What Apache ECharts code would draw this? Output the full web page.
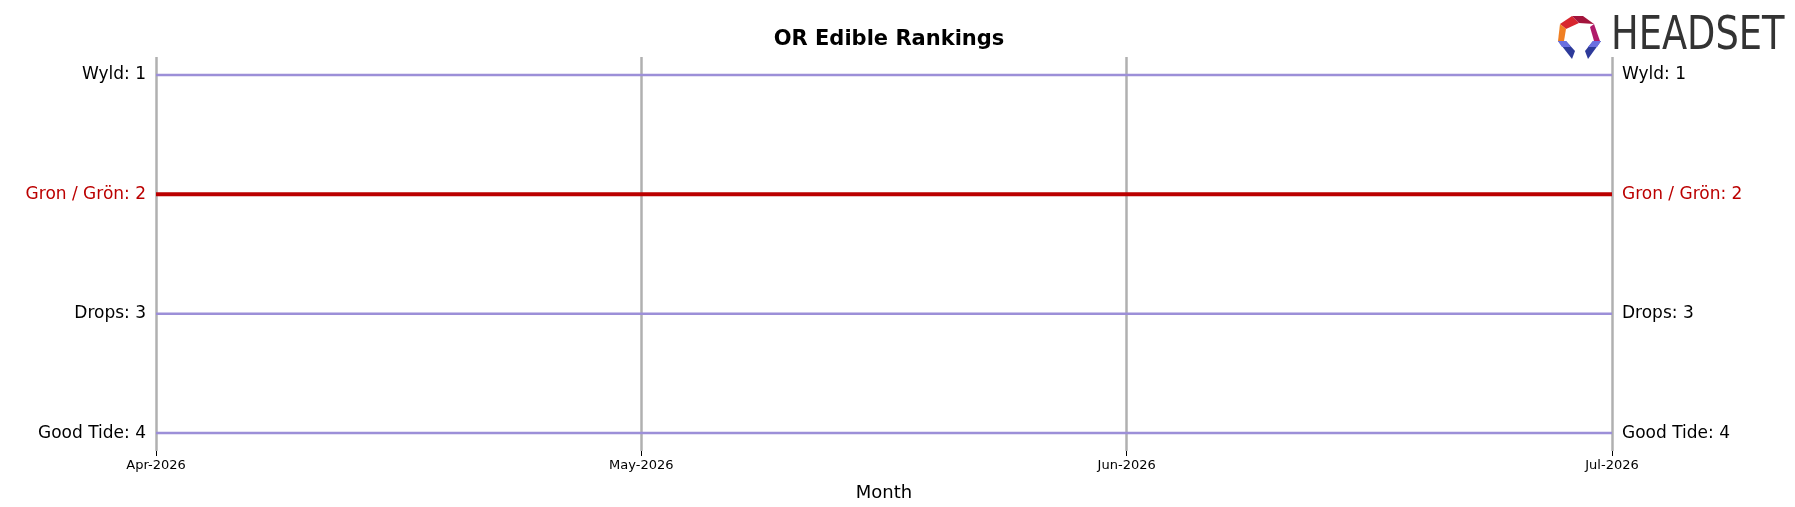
<!DOCTYPE html>
<html>
<head>
<meta charset="utf-8">
<script src="https://cdn.jsdelivr.net/npm/echarts@6/dist/echarts.min.js"></script>
<style>html,body{margin:0;padding:0;background:#fff}#main{width:1795px;height:507px}</style>
</head>
<body>
<div id="main"></div>
<script>
var monthLabels = ['Apr-2026', 'May-2026', 'Jun-2026', 'Jul-2026'];
var brands = ['Wyld', 'Gron / Grön', 'Drops', 'Good Tide'];
var ranks = [
    [1, 1, 1, 1],
    [2, 2, 2, 2],
    [3, 3, 3, 3],
    [4, 4, 4, 4]
];
var highlight = 'Gron / Grön';

var chart = echarts.init(document.getElementById('main'));
var font = 'DejaVu Sans';

var series = brands.map(function (name, i) {
    var hl = name === highlight;
    var color = hl ? '#bb0000' : '#9c8fd8';
    var last = ranks[i][ranks[i].length - 1];
    return {
        name: name,
        type: 'line',
        symbol: 'circle',
        symbolSize: 0,
        showSymbol: true,
        z: hl ? 5 : 3,
        lineStyle: { color: color, width: hl ? 4 : 2.5 },
        itemStyle: { color: color },
        data: ranks[i],
        label: {
            show: true,
            position: 'left',
            distance: 10,
            color: hl ? '#bb0000' : '#000',
            fontFamily: font,
            fontSize: 17,
            formatter: function (p) { return p.dataIndex === 0 ? name + ': ' + ranks[i][0] : ''; }
        },
        endLabel: {
            show: true,
            distance: 10,
            color: hl ? '#bb0000' : '#000',
            fontFamily: font,
            fontSize: 17,
            formatter: name + ': ' + last
        }
    };
});

var option = {
    backgroundColor: '#fff',
    animation: false,
    title: {
        text: 'OR Edible Rankings',
        left: 884,
        top: 24,
        textAlign: 'center',
        textStyle: { fontFamily: font, fontSize: 21, fontWeight: 'bold', color: '#000' }
    },
    grid: { left: 156, right: 183, top: 57, bottom: 56 },
    xAxis: {
        type: 'category',
        boundaryGap: false,
        data: monthLabels,
        name: 'Month',
        nameLocation: 'middle',
        nameGap: 33,
        nameTextStyle: { fontFamily: font, fontSize: 18, color: '#000' },
        axisLine: { show: false },
        axisTick: { show: true, length: 5, lineStyle: { color: '#000' } },
        axisLabel: { fontFamily: font, fontSize: 13, color: '#000', margin: 8 },
        splitLine: { show: true, lineStyle: { color: '#b0b0b0', width: 2.5 } }
    },
    yAxis: {
        type: 'value',
        inverse: true,
        min: 0.85,
        max: 4.15,
        axisLine: { show: false },
        axisTick: { show: false },
        axisLabel: { show: false },
        splitLine: { show: false }
    },
    series: series,
    graphic: [
        { type: 'polygon', shape: { points: [[1560, 24], [1572, 16], [1579, 23], [1566, 29]] }, style: { fill: '#d8262f' } },
        { type: 'polygon', shape: { points: [[1572, 16], [1583, 16], [1594, 24], [1579, 23]] }, style: { fill: '#a3143c' } },
        { type: 'polygon', shape: { points: [[1594, 24], [1600, 41], [1594, 41], [1590, 27]] }, style: { fill: '#b01a6a' } },
        { type: 'polygon', shape: { points: [[1560, 24], [1566, 29], [1564, 41], [1558, 41]] }, style: { fill: '#f07f22' } },
        { type: 'polygon', shape: { points: [[1558, 41], [1566, 41], [1575, 51], [1572, 59]] }, style: { fill: '#2d3a9a' } },
        { type: 'polygon', shape: { points: [[1601, 41], [1593, 41], [1585, 51], [1588, 59]] }, style: { fill: '#2d3a9a' } },
        { type: 'polygon', shape: { points: [[1558, 41], [1566, 41], [1571, 47], [1562, 47]] }, style: { fill: '#6a6fe0' } },
        { type: 'polygon', shape: { points: [[1601, 41], [1593, 41], [1588, 47], [1597, 47]] }, style: { fill: '#6a6fe0' } },
        {
            type: 'text', left: 1611, top: 14, scaleX: 0.8,
            style: { text: 'HEADSET', fontFamily: font, fontSize: 46, fill: '#333' }
        }
    ]
};
chart.setOption(option);
</script>
</body>
</html>
